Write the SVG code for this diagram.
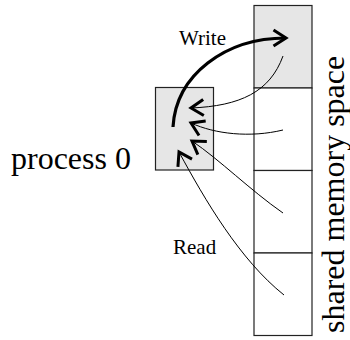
<svg xmlns="http://www.w3.org/2000/svg" width="350" height="340" viewBox="0 0 350 340">
<style>
.box{stroke:#222;stroke-width:1.2}
.grey{fill:#e6e6e6}
.white{fill:#fff}
.thin{fill:none;stroke:#000;stroke-width:1}
.thick{fill:none;stroke:#000;stroke-width:3.2}
</style>
<defs>
<marker id="head" markerUnits="userSpaceOnUse" markerWidth="30" markerHeight="30" viewBox="-15 -15 30 30" refX="0" refY="0" orient="auto" overflow="visible">
<path d="M-12.5,-8 L0,0 L-12.5,8" fill="none" stroke="#000" stroke-width="3"/>
</marker>
</defs>
<rect width="350" height="340" fill="#fff"/>
<g id="memory">
<rect class="box grey" x="254" y="5.5" width="58" height="82.5"/>
<rect class="box white" x="254" y="88" width="58" height="82.5"/>
<rect class="box white" x="254" y="170.5" width="58" height="82.5"/>
<rect class="box white" x="254" y="253" width="58" height="82.5"/>
<text font-family="'Liberation Serif', 'Times New Roman', serif" font-size="32" fill="#000" transform="translate(344,333) rotate(-90)">shared memory space</text>
</g>
<g id="process0">
<rect class="box grey" x="155.5" y="87.5" width="58" height="82.5"/>
<text font-family="'Liberation Serif', 'Times New Roman', serif" font-size="32" fill="#000" x="11" y="169">process 0</text>
</g>
<g id="connectors">
<path class="thick" d="M173,127 C176,75 225,38 286,38" marker-end="url(#head)"/>
<path class="thin" d="M283,56 C270,92 240,106 191,108" marker-end="url(#head)"/>
<path class="thin" d="M283,130 C250,138 215,134 191,123" marker-end="url(#head)"/>
<path class="thin" d="M283,213 C250,190 220,160 192,141" marker-end="url(#head)"/>
<path class="thin" d="M284,295 C240,260 205,200 179,152" marker-end="url(#head)"/>
<text font-family="'Liberation Serif', 'Times New Roman', serif" font-size="21" fill="#000" x="179" y="45">Write</text>
<text font-family="'Liberation Serif', 'Times New Roman', serif" font-size="21" fill="#000" x="173" y="254">Read</text>
</g>
</svg>
